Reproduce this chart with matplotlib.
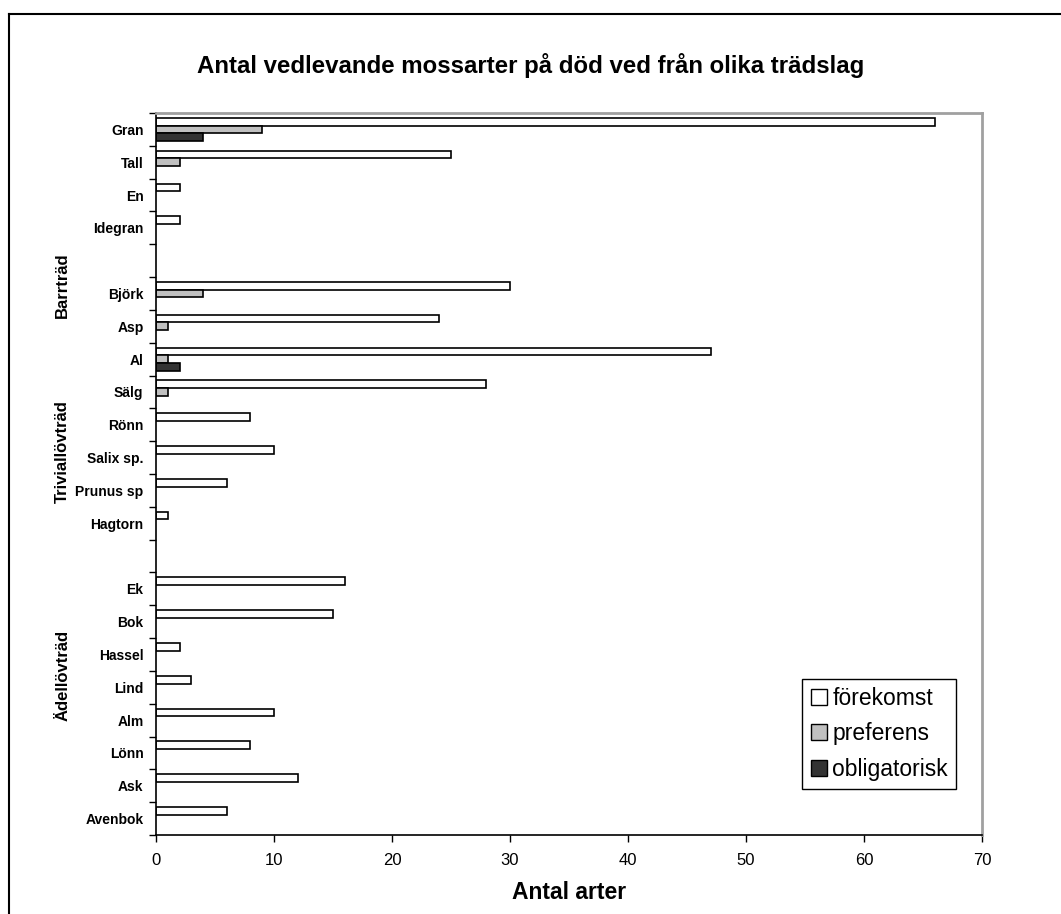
import numpy as np
import matplotlib
matplotlib.use('Agg')
import matplotlib.pyplot as plt
from matplotlib.lines import Line2D
from matplotlib.patches import Patch

plt.rcParams['font.family'] = ['Liberation Sans', 'DejaVu Sans']

# tree species, empty strings are spacers between the groups
species = ['Gran', 'Tall', 'En', 'Idegran', '',
           'Björk', 'Asp', 'Al', 'Sälg', 'Rönn', 'Salix sp.', 'Prunus sp', 'Hagtorn', '',
           'Ek', 'Bok', 'Hassel', 'Lind', 'Alm', 'Lönn', 'Ask', 'Avenbok']
forekomst = [66, 25, 2, 2, 0, 30, 24, 47, 28, 8, 10, 6, 1, 0, 16, 15, 2, 3, 10, 8, 12, 6]
preferens = [9, 2, 0, 0, 0, 4, 1, 1, 1, 0, 0, 0, 0, 0, 0, 0, 0, 0, 0, 0, 0, 0]
obligatorisk = [4, 0, 0, 0, 0, 0, 0, 2, 0, 0, 0, 0, 0, 0, 0, 0, 0, 0, 0, 0, 0, 0]
series_names = ['förekomst', 'preferens', 'obligatorisk']
series_colors = ['white', '#c0c0c0', '#333333']

groups = ['Barrträd', 'Triviallövträd', 'Ädellövträd']
group_pos = [4.74, 9.83, 16.65]

fig = plt.figure(figsize=(10.61, 9.14), dpi=100)
ax = fig.add_axes([0.147, 0.0864, 0.7785, 0.79])

y = np.arange(len(species))
h = 0.7 / 3
for k, vals in enumerate([forekomst, preferens, obligatorisk]):
    vals = np.array(vals, dtype=float)
    mask = vals > 0
    ax.barh(y[mask] + (k - 1) * h, vals[mask], height=h, color=series_colors[k],
            edgecolor='black', linewidth=1.2)

ax.set_xlim(0, 70)
ax.set_ylim(len(species) - 0.5, -0.5)
ax.set_xticks(range(0, 71, 10))
ax.tick_params(axis='x', labelsize=12, length=5, width=1, direction='out', pad=8)

# ticks between categories, labels at the centres
ax.set_yticks(np.arange(-0.5, len(species), 1.0))
ax.set_yticklabels([])
ax.set_yticks(y, minor=True)
ax.set_yticklabels(species, minor=True, fontweight='bold', fontsize=10)
ax.tick_params(axis='y', which='major', length=5, width=1, direction='out')
ax.tick_params(axis='y', which='minor', length=0, pad=9)

for s in ['left', 'bottom']:
    ax.spines[s].set_color('black')
    ax.spines[s].set_linewidth(1.2)
for s in ['top', 'right']:
    ax.spines[s].set_color('#a0a0a0')
    ax.spines[s].set_linewidth(2)

for name, pos in zip(groups, group_pos):
    ax.text(-0.113, pos, name, transform=ax.get_yaxis_transform(), rotation=90,
            ha='center', va='center', fontsize=12, fontweight='bold')

ax.set_xlabel('Antal arter', fontsize=16.5, fontweight='bold', labelpad=9)
fig.text(0.5, 1 - 65 / 914, 'Antal vedlevande mossarter på död ved från olika trädslag',
         ha='center', va='center', fontsize=17.3, fontweight='bold')

handles = [Patch(facecolor=c, edgecolor='black', linewidth=1) for c in series_colors]
leg = ax.legend(handles, series_names, loc='lower right', bbox_to_anchor=(0.9685, 0.0637),
                borderaxespad=0, fontsize=16.5, fancybox=False, framealpha=1,
                edgecolor='black', handlelength=0.7, handleheight=0.7,
                handletextpad=0.25, labelspacing=0.55, borderpad=0.35)
leg.get_frame().set_linewidth(1)

# chart border
fig.add_artist(Line2D([9 / 1061, 9 / 1061], [0, 1 - 14 / 914], color='black', lw=1.5))
fig.add_artist(Line2D([9 / 1061, 1], [1 - 14 / 914, 1 - 14 / 914], color='black', lw=1.5))

fig.savefig('out.png', dpi=100)
